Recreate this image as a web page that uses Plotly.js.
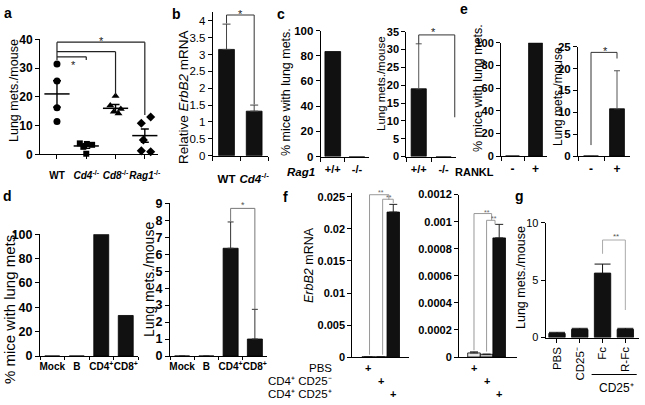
<!DOCTYPE html>
<html><head><meta charset="utf-8">
<script src="https://cdn.plot.ly/plotly-3.0.1.min.js"></script>
<style>html,body{margin:0;padding:0;background:#fff}#chart{width:645px;height:405px}</style>
</head><body><div id="chart"></div>
<script>
// ================= DATA =================
// a: lung mets per mouse, individual mice
const catsA = ['WT', 'Cd4-/-', 'Cd8-/-', 'Rag1-/-'];
const ptsWT   = [31.4, 25.5, 16.2, 11.4];
const ptsCd4  = [3.8, 3.3, 3.6, 2.6, 0.2];
const ptsCd8  = [20.3, 17.0, 15.8, 14.8, 14.2];
const ptsRag1 = [13.0, 10.8, 5.0, 1.2, 0.9];
const meanA = [21.0, 2.9, 16.0, 6.5];
const semA  = [4.6, 0.8, 1.3, 2.3];
// b: relative ErbB2 mRNA
const catsB = ['WT', 'Cd4-/-'];
const valsB = [3.15, 1.32];
const errB  = [0.75, 0.18];
// c: Rag1
const catsC = ['+/+', '-/-'];
const pctC  = [83.3, 0];
const metsC = [19.0, 0];
const errC  = [12.6, 0];
// e: RANKL
const catsE = ['-', '+'];
const pctE  = [0, 100];
const metsE = [0, 10.8];
const errE  = [0, 8.7];
// d: transfer
const catsD = ['Mock', 'B', 'CD4+', 'CD8+'];
const pctD  = [0, 0, 100, 33.3];
const metsD = [0, 0, 6.35, 1.0];
const errD  = [0, 0, 1.55, 1.75];
// f: ErbB2 mRNA
const catsF = ['PBS', 'CD4+ CD25-', 'CD4+ CD25+'];
const erbF1 = [0.0001, 0.00008, 0.0226];
const errF1 = [0, 0, 0.0012];
const erbF2 = [0.00003, 0.00002, 0.00088];
const errF2 = [0.000008, 0, 0.0001];
const ticksF1 = [0, 0.005, 0.01, 0.015, 0.02, 0.025];
const tickTextF1 = ['0', '0.005', '0.01', '0.015', '0.02', '0.025'];
const ticksF2 = [0, 0.0002, 0.0004, 0.0006, 0.0008, 0.001, 0.0012];
const tickTextF2 = ['0', '0.0002', '0.0004', '0.0006', '0.0008', '0.001', '0.0012'];
// g: lung mets
const catsG = ['PBS', 'CD25-', 'Fc', 'R-Fc'];
const metsG = [0.35, 0.7, 5.6, 0.7];
const errG  = [0.1, 0.1, 0.8, 0.1];

// ================= STYLE / LAYOUT =================
const W = 645, H = 405;
const FONT = 'Liberation Sans, Arial, sans-serif';
function dom(l, r, t, b) { return {x: [l / W, r / W], y: [1 - b / H, 1 - t / H]}; }
const px = v => v / W, py = v => 1 - v / H;

const BOX = {
  a:  dom(40, 158, 39.3, 154.3),
  b:  dom(212.7, 268, 12.3, 155.7),
  c1: dom(320.7, 369, 30.5, 156.5),
  c2: dom(406.3, 456, 31.7, 156.5),
  e1: dom(501, 547, 42.7, 156),
  e2: dom(578, 630, 46.7, 156),
  d1: dom(40, 138, 234.3, 356),
  d2: dom(170, 267, 203.3, 356),
  f1: dom(352.3, 409, 192.8, 357.3),
  f2: dom(459, 516.7, 194.6, 357),
  g:  dom(545.6, 639, 222.8, 337.5)
};

function baseAx(extra) {
  return Object.assign({
    showline: true, linecolor: '#000', linewidth: 1, mirror: false,
    ticks: 'outside', ticklen: 4, tickwidth: 1, tickcolor: '#000',
    showgrid: false, zeroline: false, fixedrange: true, tickangle: 0
  }, extra);
}
const fB = (s) => ({family: FONT, size: s, color: '#000', weight: 'bold'});
const fN = (s) => ({family: FONT, size: s, color: '#000'});

const dLabels = ['Mock', 'B', 'CD4<sup>+</sup>', 'CD8<sup>+</sup>'];
const layout = {
  width: W, height: H,
  margin: {l: 0, r: 0, t: 0, b: 0},
  paper_bgcolor: '#fff', plot_bgcolor: 'rgba(0,0,0,0)',
  showlegend: false, bargap: 0,
  // a
  xaxis:  baseAx({domain: BOX.a.x, anchor: 'y', range: [-0.58, 3.45], tickvals: [0, 1, 2, 3],
          ticktext: ['WT', '<i>Cd4</i><sup>-/-</sup>', '<i>Cd8</i><sup>-/-</sup>', '<i>Rag1</i><sup>-/-</sup>'],
          tickfont: fB(10), ticklabelstandoff: 8}),
  yaxis:  baseAx({domain: BOX.a.y, anchor: 'x', range: [0, 40], dtick: 10, tickfont: fB(12)}),
  // b
  xaxis2: baseAx({domain: BOX.b.x, anchor: 'y2', type: 'category', range: [-0.5, 1.5], tickson: 'boundaries',
          tickvals: catsB, ticktext: ['WT', '<i>Cd4</i><sup>-/-</sup>'], tickfont: fB(11.5), ticklabelstandoff: 12}),
  yaxis2: baseAx({domain: BOX.b.y, anchor: 'x2', range: [0, 4.25], tickvals: [0,0.5,1,1.5,2,2.5,3,3.5,4], tickfont: fN(11.5)}),
  // c
  xaxis3: baseAx({domain: BOX.c1.x, anchor: 'y3', type: 'category', range: [-0.5, 1.5], tickson: 'boundaries',
          tickfont: fB(11), ticklabelstandoff: 2}),
  yaxis3: baseAx({domain: BOX.c1.y, anchor: 'x3', range: [0, 100], dtick: 20, tickfont: fB(11.5)}),
  xaxis4: baseAx({domain: BOX.c2.x, anchor: 'y4', type: 'category', range: [-0.5, 1.5], tickson: 'boundaries',
          tickfont: fB(11), ticklabelstandoff: 2}),
  yaxis4: baseAx({domain: BOX.c2.y, anchor: 'x4', range: [0, 35], dtick: 5, tickfont: fB(11)}),
  // e
  xaxis5: baseAx({domain: BOX.e1.x, anchor: 'y5', type: 'category', range: [-0.5, 1.5], tickson: 'boundaries',
          tickfont: fB(12), ticklabelstandoff: 2}),
  yaxis5: baseAx({domain: BOX.e1.y, anchor: 'x5', range: [0, 100], dtick: 20, tickfont: fB(11)}),
  xaxis6: baseAx({domain: BOX.e2.x, anchor: 'y6', type: 'category', range: [-0.5, 1.5], tickson: 'boundaries',
          tickfont: fB(12), ticklabelstandoff: 2}),
  yaxis6: baseAx({domain: BOX.e2.y, anchor: 'x6', range: [0, 25], dtick: 5, tickfont: fB(11.5)}),
  // d
  xaxis7: baseAx({domain: BOX.d1.x, anchor: 'y7', type: 'category', range: [-0.5, 3.5], tickson: 'boundaries',
          tickvals: catsD, ticktext: dLabels, tickfont: fB(10), ticklen: 3, ticklabelstandoff: 1}),
  yaxis7: baseAx({domain: BOX.d1.y, anchor: 'x7', range: [0, 100], dtick: 20, tickfont: fB(12.5)}),
  xaxis8: baseAx({domain: BOX.d2.x, anchor: 'y8', type: 'category', range: [-0.5, 3.5], tickson: 'boundaries',
          tickvals: catsD, ticktext: dLabels, tickfont: fB(10), ticklen: 3, ticklabelstandoff: 1}),
  yaxis8: baseAx({domain: BOX.d2.y, anchor: 'x8', range: [0, 9], dtick: 1, tickfont: fB(12.5)}),
  // f
  xaxis9:  baseAx({domain: BOX.f1.x, anchor: 'y9', range: [-1.28, 3.26], ticks: '', showticklabels: false}),
  yaxis9:  baseAx({domain: BOX.f1.y, anchor: 'x9', range: [0, 0.0256], tickvals: ticksF1, ticktext: tickTextF1, tickfont: fB(11)}),
  xaxis10: baseAx({domain: BOX.f2.x, anchor: 'y10', range: [-1.19, 3.39], ticks: '', showticklabels: false}),
  yaxis10: baseAx({domain: BOX.f2.y, anchor: 'x10', range: [0, 0.0012], tickvals: ticksF2, ticktext: tickTextF2, tickfont: fB(11)}),
  // g
  xaxis11: baseAx({domain: BOX.g.x, anchor: 'y11', type: 'category', range: [-0.5, 3.6], tickangle: -90,
          tickvals: catsG, ticktext: ['PBS', 'CD25\u207B', 'Fc', 'R-Fc'], tickfont: fN(11.5)}),
  yaxis11: baseAx({domain: BOX.g.y, anchor: 'x11', range: [0, 10], dtick: 5, tickfont: fN(11)}),
  shapes: [], annotations: []
};

// ================= TRACES =================
const traces = [];
const BLACK = '#000';
// --- a: dot plot
const groupsA = [ptsWT, ptsCd4, ptsCd8, ptsRag1];
const symA = ['circle', 'square', 'triangle-up', 'diamond'];
const sizeA = [7, 6, 7, 7];
const JIT = [[0, 0, 0, 0], [-0.22, 0.2, 0.02, -0.1, 0.0], [0.0, -0.18, 0.18, -0.06, 0.1], [0.2, -0.12, -0.05, -0.12, 0.2]];
groupsA.forEach((pts, i) => {
  traces.push({type: 'scatter', mode: 'markers', xaxis: 'x', yaxis: 'y', cliponaxis: false,
    x: pts.map((_, j) => i + JIT[i][j]), y: pts,
    marker: {symbol: symA[i], size: sizeA[i], color: BLACK}});
});
traces.push({type: 'scatter', mode: 'markers', xaxis: 'x', yaxis: 'y', cliponaxis: false,
  x: catsA.map((_, i) => i), y: meanA,
  marker: {symbol: 'line-ew', size: 18, color: BLACK, line: {width: 1.5, color: BLACK}},
  error_y: {type: 'data', array: semA, visible: true, width: 4, thickness: 1.4, color: BLACK}});

function barTrace(xa, ya, x, y, err, width, colors, errColor, capW) {
  const t = {type: 'bar', xaxis: xa, yaxis: ya, x: x, y: y, width: width,
    marker: {color: colors, line: {color: '#000', width: 0.8}}};
  if (err) t.error_y = {type: 'data', symmetric: false, array: err, arrayminus: err.map(() => 0),
    visible: true, width: capW, thickness: 1, color: errColor};
  return t;
}
traces.push(barTrace('x2', 'y2', catsB, valsB, errB, 0.57, '#111', '#444', 4));
traces.push(barTrace('x3', 'y3', catsC, pctC, null, 0.65, '#111'));
traces.push(barTrace('x4', 'y4', catsC, metsC, errC, 0.61, '#111', '#555', 3));
traces.push(barTrace('x5', 'y5', catsE, pctE, null, 0.6, '#111'));
traces.push(barTrace('x6', 'y6', catsE, metsE, errE, 0.57, '#111', '#555', 3));
traces.push(barTrace('x7', 'y7', catsD, pctD, null, 0.61, '#111'));
traces.push(barTrace('x8', 'y8', catsD, metsD, errD, 0.62, '#111', '#333', 3));
const fColors = ['#e6e6e6', '#bdbdbd', '#111'];
traces.push(barTrace('x9', 'y9', catsF.map((_, i) => i), erbF1, errF1, 1.0, fColors, '#222', 4));
traces.push(barTrace('x10', 'y10', catsF.map((_, i) => i), erbF2, errF2, 1.0, fColors, '#222', 4));
traces.push(barTrace('x11', 'y11', catsG, metsG, errG, 0.72, '#111', '#111', 8));

// ================= SIGNIFICANCE BRACKETS =================
function line(xr, yr, x0, y0, x1, y1, color, w) {
  layout.shapes.push({type: 'line', xref: xr, yref: yr, x0: x0, y0: y0, x1: x1, y1: y1,
    line: {color: color, width: w || 1}});
}
function bracket(xr, yr, xL, xR, y, yL, yR, color, w) {
  line(xr, yr, xL, yL, xL, y, color, w);
  line(xr, yr, xL, y, xR, y, color, w);
  line(xr, yr, xR, y, xR, yR, color, w);
}
// star: x in data units, y in page pixels (can sit above the axis range)
function star(xr, x, yPix, txt, size, color) {
  layout.annotations.push({xref: xr, yref: 'paper', x: x, y: py(yPix), text: txt, showarrow: false,
    font: {family: FONT, size: size, color: color || '#222'}, xanchor: 'center', yanchor: 'middle'});
}
// a
bracket('x', 'y', 0, 3, 39.0, 32.8, 13.7, '#222', 1.2);
bracket('x', 'y', 0, 2, 35.7, 35.7, 20.6, '#222', 1.2);
bracket('x', 'y', 0, 1, 33.9, 33.9, 32.8, '#222', 1.2);
star('x', 1.53, 41, '*', 11);
star('x', 0.56, 65, '*', 11);
// b
bracket('x2', 'y2', 0, 1, 4.17, 3.92, 1.52, '#333', 1);
star('x2', 0.5, 14, '*', 11);
// c
bracket('x4', 'y4', 0, 1.45, 34.1, 31.6, 11.0, '#333', 1);
star('x4', 0.6, 32, '*', 11);
// e
bracket('x6', 'y6', 0, 1, 23.7, 2.5, 22.3, '#333', 1);
star('x6', 0.57, 51, '*', 11);
// d
bracket('x8', 'y8', 2, 3, 8.7, 7.9, 2.75, '#777', 1);
star('x8', 2.52, 205, '*', 9, '#555');
// f
bracket('x9', 'y9', 0.1, 1.65, 0.0253, 0.0004, 0.0245, '#999', 1);
bracket('x9', 'y9', 1.15, 2.0, 0.0246, 0.0004, 0.0240, '#999', 1);
star('x9', 1.05, 192, '**', 7, '#666');
star('x9', 1.62, 197, '**', 7, '#666');
bracket('x10', 'y10', 0, 1.4, 0.00106, 0.00005, 0.00101, '#999', 1);
bracket('x10', 'y10', 1.0, 1.67, 0.00101, 0.00004, 0.00098, '#999', 1);
star('x10', 1.0, 212.5, '**', 7, '#666');
star('x10', 1.6, 218, '**', 7, '#666');
// g
bracket('x11', 'y11', 2, 3, 8.5, 7.3, 2.4, '#aaa', 1);
star('x11', 2.6, 237, '**', 8, '#555');

// ================= TEXT: titles, letters, row labels =================
function txt(x, y, text, font, opts) {
  layout.annotations.push(Object.assign({xref: 'paper', yref: 'paper', x: px(x), y: py(y), text: text,
    showarrow: false, font: font, xanchor: 'center', yanchor: 'middle'}, opts || {}));
}
// y-axis titles
txt(14, 91, 'Lung mets./mouse', fN(12.5), {textangle: -90});
txt(184, 97, 'Relative <i>ErbB2</i> mRNA', fN(13.5), {textangle: -90});
txt(286, 92, '% mice with lung mets.', fN(12.5), {textangle: -90});
txt(381, 84, 'Lung mets./mouse', fN(11.5), {textangle: -90});
txt(478, 88, '% mice with lung mets.', fN(12.5), {textangle: -90});
txt(558, 97, 'Lung mets./mouse', fN(12), {textangle: -90});
txt(9, 308, '% mice with lung mets.', fN(15), {textangle: -90});
txt(149, 280, 'Lung mets./mouse', fN(14), {textangle: -90});
txt(309, 265, '<i>ErbB2</i> mRNA', fN(12.5), {textangle: -90});
txt(521, 278, 'Lung mets./mouse', fN(12.5), {textangle: -90});
// panel letters
const LET = fB(14);
txt(8, 13, 'a', LET); txt(176, 14, 'b', LET); txt(281, 14, 'c', LET); txt(7, 196, 'd', LET);
txt(464, 9, 'e', LET); txt(285, 197, 'f', LET); txt(519, 196, 'g', LET);
// row labels
txt(301, 172, '<i>Rag1</i>', fB(11.5));
txt(474, 172, 'RANKL', fB(11));
// f table
const rowY = [368, 381, 394];
const rowLab = ['PBS', 'CD4\u207A CD25\u207B', 'CD4\u207A CD25\u207A'];
catsF.forEach((c, i) => {
  txt(334, rowY[i], rowLab[i], fN(11.5), {xanchor: 'right'});
  ['x9', 'x10'].forEach(xr => {
    layout.annotations.push({xref: xr, yref: 'paper', x: i, y: py(rowY[i]), text: '+', showarrow: false,
      font: fB(11), xanchor: 'center', yanchor: 'middle'});
  });
});
// g group label
layout.shapes.push({type: 'line', xref: 'x11', yref: 'paper', x0: 1.52, x1: 3.5, y0: py(374.5), y1: py(374.5),
  line: {color: '#000', width: 1}});
layout.annotations.push({xref: 'x11', yref: 'paper', x: 2.62, y: py(388), text: 'CD25\u207A', showarrow: false,
  font: fN(12), xanchor: 'center', yanchor: 'middle'});

Plotly.newPlot('chart', traces, layout, {staticPlot: true, displayModeBar: false});
</script>
</body></html>
